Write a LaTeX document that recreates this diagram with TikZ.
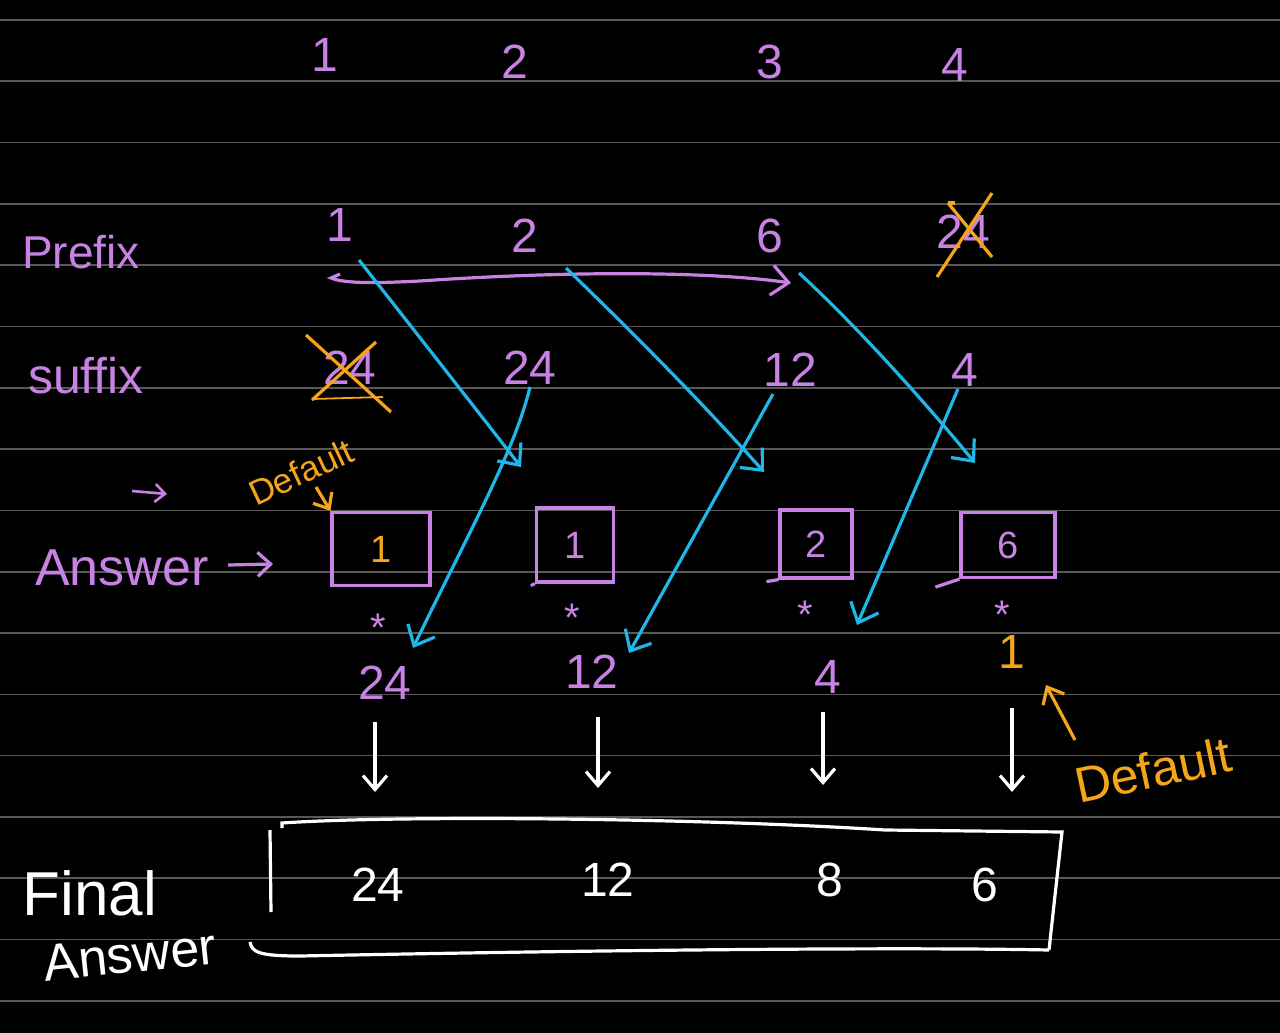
\documentclass[tikz,border=0pt]{standalone}
\usepackage{fontspec}
\setmainfont{Liberation Sans}
\usetikzlibrary{arrows.meta,calc}
\definecolor{pur}{RGB}{200,130,228}
\definecolor{org}{RGB}{245,165,25}
\definecolor{cyn}{RGB}{32,182,232}
\definecolor{rulec}{RGB}{88,88,88}
\begin{document}
\begin{tikzpicture}[x=1pt,y=-1pt,
  txt/.style={inner sep=0pt,text=#1},
  big/.style={font=\fontsize{48}{48}\selectfont},
  starf/.style={font=\fontsize{40}{40}\selectfont},
  ansbox/.style={draw=pur,line width=3.2pt,minimum width=#1,inner sep=0pt,font=\fontsize{38}{38}\selectfont},
  barb/.style={-{Straight Barb[length=17pt,width=30pt]}},
  cy/.style={draw=cyn,line width=3.2pt,barb},
  pl/.style={draw=pur,line width=3.2pt},
  ol/.style={draw=org,line width=3.2pt},
  wl/.style={draw=white,line width=3.2pt}]
\fill[black] (0,0) rectangle (1280,1033);
\useasboundingbox (0,0) rectangle (1280,1033);
\foreach \k in {0,...,16}
  \draw[rulec,line width=1.6pt] (0,{20+61.3*\k}) -- (1280,{20+61.3*\k});

% index row
\node[txt=pur,big] (i1) at (325,55) {1};
\node[txt=pur,big] (i2) at (515,62) {2};
\node[txt=pur,big] (i3) at (770,62) {3};
\node[txt=pur,big] (i4) at (955,65) {4};

% labels
\node[txt=pur,font=\fontsize{46}{46}\selectfont] (lpre) at (81,252) {Prefix};
\node[txt=pur,font=\fontsize{50}{50}\selectfont] (lsuf) at (86,376) {suffix};

% prefix values
\node[txt=pur,big] (p1) at (340,225) {1};
\node[txt=pur,big] (p2) at (525,236) {2};
\node[txt=pur,big] (p3) at (770,236) {6};
\node[txt=pur,big] (p4) at (963,232) {24};
\draw[ol] (948,203) -- (992,257);
\draw[ol] (937,277) -- (992,193);
\draw[ol] (948,203) -- (955,203);

% suffix values
\node[txt=pur,big] (s1) at (350,368) {24};
\node[txt=pur,big] (s2) at (530,368) {24};
\node[txt=pur,big] (s3) at (790,370) {12};
\node[txt=pur,big] (s4) at (965,370) {4};
\draw[ol] (306,335) -- (391,412);
\draw[ol] (312,400) -- (376,342);
\draw[org,line width=1.8pt] (312,399) -- (383,397);

% purple arrow under prefix row
\coordinate (ha) at (340,274);
\coordinate (hb) at (791,283);
\draw[pl,barb] (ha) -- (331,278) .. controls (345,284) and (380,283) .. (420,281)
   .. controls (550,272) and (700,270) .. (hb);

% answer row
\coordinate (sa1) at (132,491);
\coordinate (sa2) at (167,494);
\draw[pl,line width=2.6pt,-{Straight Barb[length=10pt,width=18pt]}] (sa1) -- (sa2);
\node[txt=pur,font=\fontsize{52}{52}\selectfont] (lans) at (122,568) {Answer};
\coordinate (aa1) at (228,565);
\coordinate (aa2) at (273,564);
\draw[pl,-{Straight Barb[length=13pt,width=24pt]}] (aa1) -- (aa2);

\node[ansbox=98pt,minimum height=73pt,text=org] (b1) at (381,549) {1};
\node[ansbox=77pt,minimum height=74pt,text=pur] (b2) at (575,545) {1};
\node[ansbox=72pt,minimum height=68pt,text=pur] (b3) at (816,544) {2};
\node[ansbox=94pt,minimum height=65pt,text=pur] (b4) at (1008,545) {6};
\draw[pl] (b3.south west) -- ++(-12,2);
\draw[pl] (b4.south west) -- ++(-24,8);
\draw[pl] (b2.south west) -- ++(-4,2);

\node[txt=org,font=\fontsize{35}{35}\selectfont,rotate=25] (def1) at (301,472) {Default};
\coordinate (da1) at (316,487);
\draw[ol,-{Straight Barb[length=13pt,width=22pt]}] (da1) -- (b1.north west);

% stars
\node[txt=pur,starf] (st1) at (378,628) {*};
\node[txt=pur,starf] (st2) at (572,618) {*};
\node[txt=pur,starf] (st3) at (805,615) {*};
\node[txt=pur,starf] (st4) at (1002,615) {*};

% results
\node[txt=pur,big] (r1) at (385,683) {24};
\node[txt=pur,big] (r2) at (592,672) {12};
\node[txt=pur,big] (r3) at (828,677) {4};
\node[txt=org,big] (r4) at (1012,652) {1};

% cyan arrows: prefix -> next box
\coordinate (c1s) at (359,260); \coordinate (c1e) at (521,467);
\coordinate (c2s) at (566,268); \coordinate (c2e) at (764,472);
\coordinate (c3s) at (799,273); \coordinate (c3e) at (975,463);
\draw[cy] (c1s) .. controls (410,325) and (465,395) .. (c1e);
\draw[cy] (c2s) .. controls (630,330) and (700,400) .. (c2e);
\draw[cy] (c3s) .. controls (850,320) and (915,390) .. (c3e);
% cyan arrows: suffix -> previous result
\coordinate (d1s) at (530,387); \coordinate (d1e) at (413,648);
\coordinate (d2s) at (773,394); \coordinate (d2e) at (629,653);
\coordinate (d3s) at (958,389); \coordinate (d3e) at (857,625);
\draw[cy] (d1s) .. controls (515,450) and (470,530) .. (d1e);
\draw[cy] (d2s) -- (d2e);
\draw[cy] (d3s) -- (d3e);

% default for last
\coordinate (db1) at (1075,740); \coordinate (db2) at (1046,685);
\draw[ol,-{Straight Barb[length=14pt,width=24pt]}] (db1) -- (db2);
\node[txt=org,font=\fontsize{50}{50}\selectfont,rotate=12] (def2) at (1153,770) {Default};

% white arrows
\coordinate (w1s) at (375,722); \coordinate (w1e) at (375,792);
\coordinate (w2s) at (598,717); \coordinate (w2e) at (598,788);
\coordinate (w3s) at (823,712); \coordinate (w3e) at (823,785);
\coordinate (w4s) at (1012,708); \coordinate (w4e) at (1012,792);
\foreach \i in {1,...,4}
  \draw[wl,-{Straight Barb[length=14pt,width=24pt]}] (w\i s) -- (w\i e);

% final answer
\node[txt=white,font=\fontsize{62}{62}\selectfont] (lfin) at (90,893) {Final};
\node[txt=white,font=\fontsize{52}{52}\selectfont,rotate=6] (lfa) at (130,955) {Answer};
\draw[wl] (270,830) -- (271,912);
\draw[wl] (282,828) -- (282,823) .. controls (400,815) and (700,818) .. (885,830)
   -- (1062,832) -- (1049,950);
\draw[wl] (250,942) .. controls (252,952) and (258,956) .. (300,956)
   .. controls (600,950) and (900,947) .. (1049,950);
\node[txt=white,big] (f1) at (378,885) {24};
\node[txt=white,big] (f2) at (608,880) {12};
\node[txt=white,big] (f3) at (830,880) {8};
\node[txt=white,big] (f4) at (985,885) {6};
\end{tikzpicture}
\end{document}
